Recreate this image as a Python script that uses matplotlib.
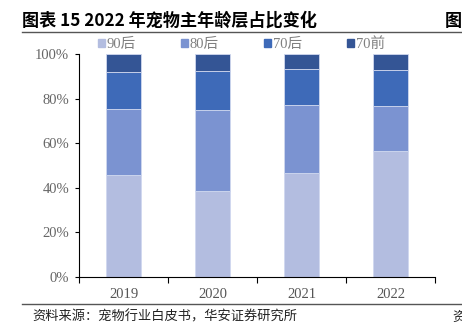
import numpy as np
import matplotlib
matplotlib.use('Agg')
import matplotlib.pyplot as plt
from matplotlib.lines import Line2D

plt.rcParams['font.family'] = ['Noto Sans CJK SC', 'DejaVu Sans']

# data
years = ['2019', '2020', '2021', '2022']
series = ['90后', '80后', '70后', '70前']
post90 = [45.7, 38.5, 46.6, 56.4]
post80 = [29.6, 36.4, 30.6, 20.2]
post70 = [16.5, 17.5, 16.1, 16.1]
pre70 = [8.2, 7.6, 6.7, 7.3]
yticks = [0, 20, 40, 60, 80, 100]

colors = ['#b3bde0', '#7b93d1', '#3e6ab8', '#345595']
W, H = 462, 334

fig = plt.figure(figsize=(W / 100, H / 100), dpi=100)
ax = fig.add_axes([79 / W, 1 - 277 / H, (435 - 79) / W, (277 - 54) / H])

x = np.arange(len(years))
bottom = np.zeros(len(years))
for vals, c, lab in zip([post90, post80, post70, pre70], colors, series):
    ax.bar(x, vals, width=0.4, bottom=bottom, color=c, label=lab,
           edgecolor='#d0d8ef', linewidth=0.6)
    bottom += np.array(vals)

ax.set_xlim(-0.5, len(years) - 0.5)
ax.set_ylim(0, 100)
ax.set_yticks(yticks)
ax.set_yticklabels([f'{v}%' for v in yticks], family='Liberation Serif',
                   fontsize=10.5, color='#666666')
ax.set_xticks(x)
ax.set_xticklabels(years, family='Liberation Serif', fontsize=10.5, color='#555555')
ax.set_xticks(np.arange(len(years) + 1) - 0.5, minor=True)
ax.tick_params(axis='x', which='major', length=0, pad=8)
ax.tick_params(axis='x', which='minor', length=4, direction='out', width=0.8)
ax.tick_params(axis='y', length=3, direction='out', width=0.8, pad=4)
for s in ['top', 'right']:
    ax.spines[s].set_visible(False)
ax.spines['left'].set_linewidth(0.8)
ax.spines['bottom'].set_linewidth(0.8)

handles = [plt.Rectangle((0, 0), 1, 1, color=c) for c in colors]
leg = fig.legend(handles, series, loc='center left', bbox_to_anchor=(98 / W, 1 - 44 / H),
                 ncol=4, frameon=False, fontsize=10.5, handlelength=0.45, handleheight=0.45,
                 handletextpad=0.15, columnspacing=3.1, borderaxespad=0, borderpad=0)
for t in leg.get_texts():
    t.set_color('#808080')
    t.set_family(['Liberation Serif', 'Noto Sans CJK SC'])

# title, rules and source
fig.text(22 / W, 1 - 21 / H, '图表 15 2022 年宠物主年龄层占比变化', fontsize=12.3,
         fontweight='bold', va='center', ha='left')
fig.text(445 / W, 1 - 21 / H, '图', fontsize=12.3, fontweight='bold', va='center', ha='left')
fig.add_artist(Line2D([22 / W, 1], [1 - 32 / H, 1 - 32 / H], color='#555555', lw=1.0))
fig.add_artist(Line2D([22 / W, 1], [1 - 304 / H, 1 - 304 / H], color='#555555', lw=1.0))
fig.text(32 / W, 1 - 317 / H, '资料来源：宠物行业白皮书，华安证券研究所', fontsize=9.5,
         va='center', ha='left', color='#222222')
fig.text(452 / W, 1 - 317 / H, '资', fontsize=9.5, va='center', ha='left', color='#222222')

fig.savefig('out.png', dpi=100)
